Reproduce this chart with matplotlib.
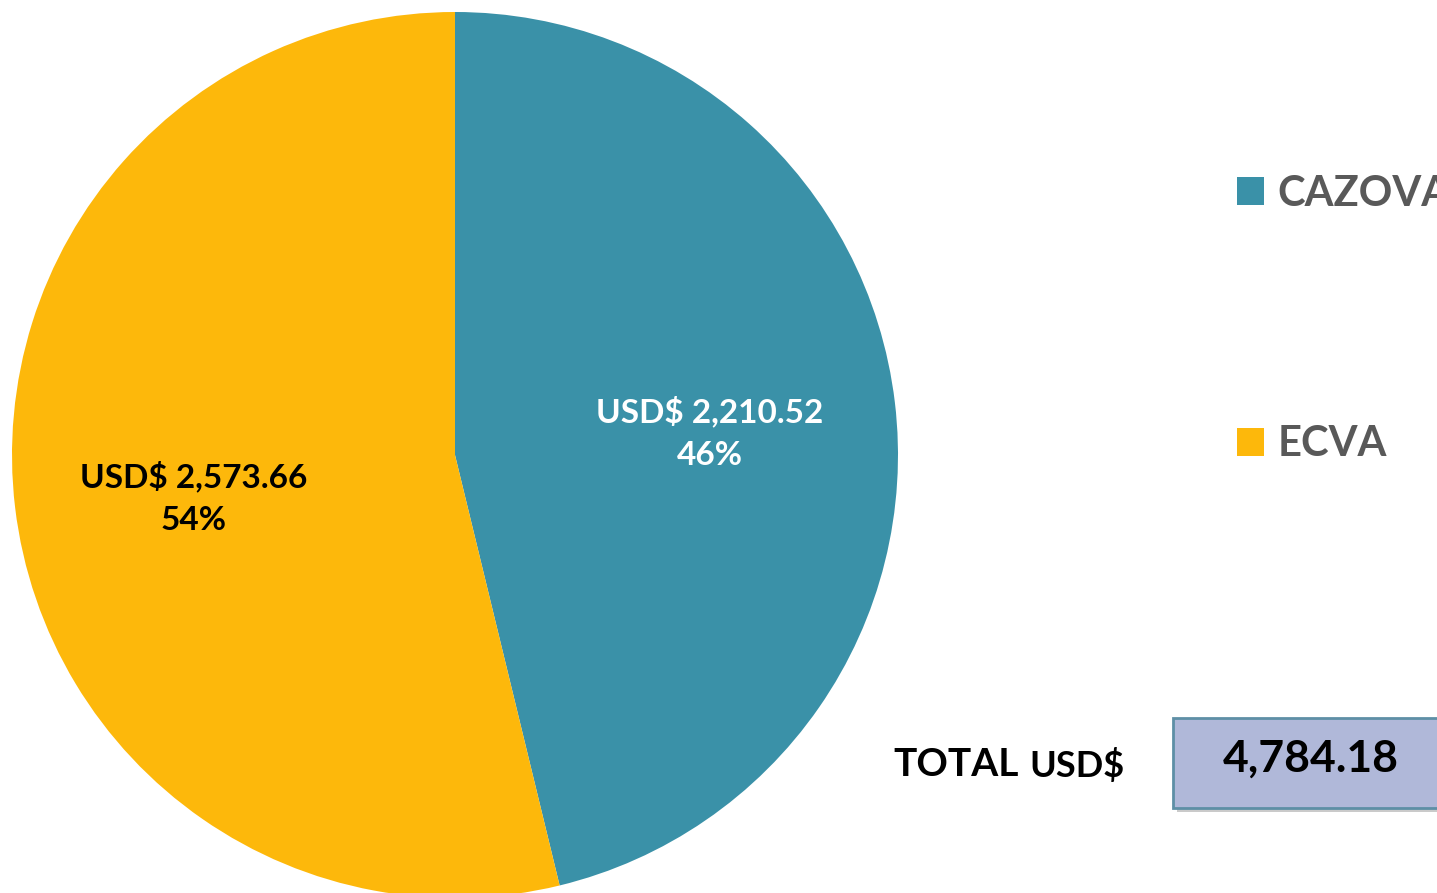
import matplotlib
matplotlib.use("Agg")
import matplotlib.pyplot as plt
from matplotlib.patches import Rectangle

categories = ["CAZOVA", "ECVA"]
values = [2210.52, 2573.66]
colors = ["#3A91A8", "#FDB80B"]
label_colors = ["white", "black"]
total = sum(values)

plt.rcParams['font.family'] = ['Lato', 'DejaVu Sans']

W, H = 1437, 893
fig = plt.figure(figsize=(W / 100, H / 100), dpi=100)
ax = fig.add_axes([0, 0, 1, 1])

cx, cy, r = 455, H - 455, 443
wedges, _ = ax.pie(values, colors=colors, startangle=90, counterclock=False,
                   center=(cx, cy), radius=r, frame=True,
                   wedgeprops=dict(linewidth=0))
ax.set_xlim(0, W)
ax.set_ylim(0, H)
ax.set_aspect('equal')
ax.axis('off')

label_pos = [(710, H - 433), (194, H - 498)]
for v, pos, c in zip(values, label_pos, label_colors):
    ax.text(pos[0], pos[1], f"USD$ {v:,.2f}\n{v / total:.0%}", ha='center', va='center',
            fontsize=24, fontweight='bold', color=c, linespacing=1.55)

leg = ax.legend(wedges, categories, loc='upper left', bbox_to_anchor=(1237 / W, 1 - 175 / H),
                frameon=False, fontsize=30, handlelength=0.65, handleheight=0.65,
                handletextpad=0.33, labelspacing=5.1, borderaxespad=0, borderpad=0)
for t in leg.get_texts():
    t.set_color('#595959')
    t.set_fontweight('bold')

# TOTAL label
tt = ax.text(893, H - 764, "TOTAL", ha='left', va='center', fontsize=28, fontweight='bold', color='black')
fig.canvas.draw()
bb = tt.get_window_extent()
ax.text(bb.x1 + 11, H - 766, "USD$", ha='left', va='center', fontsize=26, fontweight='bold', color='black')

# total box with shadow
ax.add_patch(Rectangle((1177, H - 812), 300, 90, facecolor='#8a8a8a', alpha=0.45, edgecolor='none', zorder=2))
ax.add_patch(Rectangle((1173, H - 808), 300, 90, facecolor='#B0B8D9', edgecolor='#5E8FA6', linewidth=2, zorder=3))
ax.text(1311, H - 759, f"{total:,.2f}", ha='center', va='center', fontsize=32, fontweight='bold', color='black', zorder=4)

fig.savefig("out.png", dpi=100)
